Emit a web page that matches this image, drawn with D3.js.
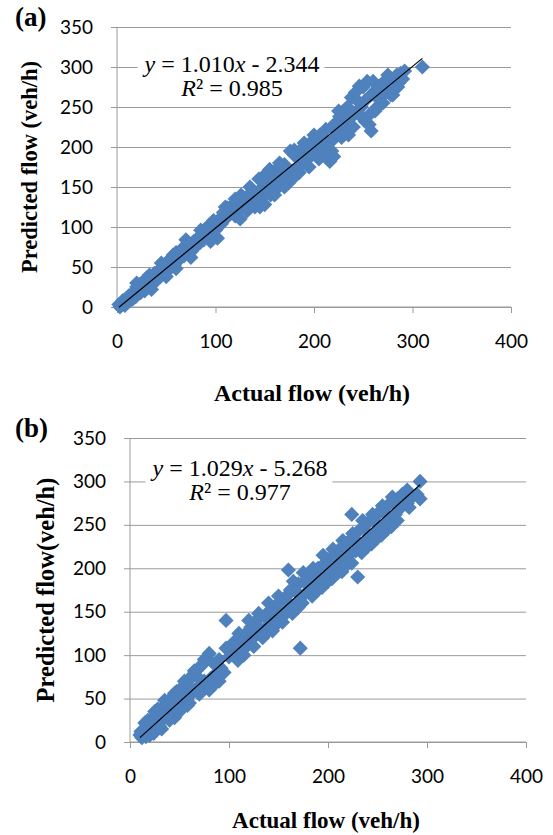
<!DOCTYPE html>
<html><head><meta charset="utf-8">
<script src="https://cdn.jsdelivr.net/npm/d3@7"></script>
<style>body{margin:0;background:#fff}svg{display:block}</style>
</head><body>
<svg id="c" width="553" height="835"></svg>
<script>
// ---------- DATA ----------
const xTicks = [0, 100, 200, 300, 400];
const yTicks = [0, 50, 100, 150, 200, 250, 300, 350];

const actualA = [2,3,5,6,8,9,10,12,13,15,16,18,19,20,21,23,24,25,27,28,30,31,33,34,36,38,40,42,44,
46,48,50,52,54,55,57,58,60,62,64,65,67,68,70,72,74,76,78,80,82,84,86,88,90,92,94,96,98,100,102,104,
106,108,110,112,114,116,118,120,122,124,126,128,130,132,134,136,138,140,142,144,146,148,150,150,
152,154,156,158,160,162,164,166,168,170,172,174,176,178,180,182,184,186,188,190,192,194,196,198,200,
202,204,206,208,210,212,214,216,218,220,222,224,226,228,230,232,234,236,238,240,242,244,246,248,250,
252,254,256,258,258,260,262,264,266,268,270,272,274,276,278,280,282,284,286,288,290,292,310,
20,35,45,50,60,70,75,85,95,110,120,125,135,145,155,160,165,170,180,185,190,195,200,205,212,218,220,
225,235,240,248,252,256,262,270,275,280,285,
148,158,168,178,188,198,208,228,238,244,264,268];
const predA = [3,0,4,8,2,10,6,14,8,16,10,20,13,25,16,28,18,22,32,20,36,26,40,30,35,42,33,45,38,
50,42,55,46,60,50,65,52,68,58,70,62,74,64,72,68,78,70,82,76,86,80,90,84,98,88,102,95,108,96,86,110,
104,118,110,124,116,120,128,114,130,122,140,126,136,120,140,130,145,125,138,160,135,150,128,165,
145,158,140,165,152,172,150,168,158,178,165,155,195,170,190,172,185,178,198,180,192,186,205,190,200,
210,195,215,200,212,222,205,182,225,210,230,215,238,222,245,228,250,235,262,240,268,245,276,250,275,
258,282,240,220,265,282,270,250,276,262,280,268,285,272,265,282,275,290,280,292,285,295,300,
30,22,55,38,48,84,62,96,82,125,135,110,150,125,172,140,180,150,196,168,205,175,215,185,190,195,188,
245,215,225,238,232,228,245,255,290,265,275,
160,145,175,160,185,205,190,212,226,258,262,272];

const actualB = [10,11,12,14,15,16,18,19,20,22,23,24,25,27,28,30,31,32,34,35,37,38,40,41,43,44,45,47,48,
50,52,54,55,57,58,60,62,64,65,67,68,70,72,74,75,78,80,80,82,85,88,90,92,
97,97,100,104,106,109,112,114,116,118,120,122,124,126,128,130,132,134,136,138,140,142,144,146,148,150,
152,154,156,158,160,160,162,164,166,168,170,172,172,174,176,178,180,182,184,186,188,190,192,194,196,198,
200,202,204,206,208,210,212,214,216,218,220,222,224,224,226,228,230,230,232,234,236,238,240,242,244,246,
248,250,252,254,256,258,260,262,264,266,268,270,272,275,278,280,282,285,290,293,293,
15,20,25,30,35,40,45,50,55,60,65,70,75,85,90,95,105,110,115,120,125,130,135,140,145,150,155,165,170,
175,185,190,195,200,205,210,215,220,225,235,240,245,250,255,260,265,270,280,
18,28,38,48,58,68,142,162,182,212,232,252];
const predB = [8,12,5,10,15,6,18,12,22,14,28,10,20,32,18,36,24,15,40,28,44,32,48,36,52,40,28,58,44,
60,48,64,52,68,42,72,56,78,60,82,62,86,66,90,70,96,102,60,74,66,80,70,85,
140,108,98,104,100,94,112,118,108,126,115,132,120,138,124,142,130,120,145,132,150,138,128,155,142,160,
148,138,165,152,198,170,158,148,175,160,182,108,168,160,185,172,190,176,168,195,182,200,186,178,205,192,
210,198,188,215,202,220,206,196,225,212,230,216,262,206,235,220,190,242,228,218,248,232,252,238,228,258,
242,262,248,238,268,252,272,258,248,276,262,280,268,285,275,290,270,282,285,300,280,
22,8,35,18,48,25,56,35,70,45,82,55,95,90,95,80,115,125,100,140,110,148,122,160,132,168,145,185,155,
195,200,175,215,185,222,195,232,205,240,255,225,262,235,272,245,282,255,275,
25,38,30,52,50,75,148,175,178,222,225,265];

const panels = [
  {label:"(a)", actual:actualA, pred:predA, slope:1.010, icpt:-2.344, eq1:["1.010","2.344"], r2:"0.985",
   yTitle:"Predicted flow (veh/h)", x0:117, x1:511, y0:307, y1:27,
   yTitleX:29, yTitleSize:22.5, eqX:232, eqY:64, labY:26, xTitleY:393, xTitleSize:24},
  {label:"(b)", actual:actualB, pred:predB, slope:1.029, icpt:-5.268, eq1:["1.029","5.268"], r2:"0.977",
   yTitle:"Predicted flow(veh/h)", x0:130, x1:526, y0:742, y1:438,
   yTitleX:45, yTitleSize:24.5, eqX:240, eqY:468, labY:437, xTitleY:820, xTitleSize:23}
];

// ---------- DRAW ----------
const svg = d3.select("#c");
const blue = "#4F81BD", grid = "#9a9a9a";
const sans = "Lato, 'Open Sans', sans-serif";
const serif = "'Liberation Serif', 'Times New Roman', serif";

panels.forEach(p => {
  const x = d3.scaleLinear().domain([0, 400]).range([p.x0, p.x1]);
  const y = d3.scaleLinear().domain([0, 350]).range([p.y0, p.y1]);
  const g = svg.append("g");

  // horizontal gridlines + outer ticks
  g.append("g").attr("transform", `translate(${p.x0},0)`)
    .call(d3.axisLeft(y).tickValues(yTicks).tickSize(-(p.x1 - p.x0)).tickPadding(24).tickFormat(d3.format("d")))
    .call(a => a.select(".domain").remove())
    .call(a => a.selectAll(".tick line").attr("stroke", grid).attr("x1", -6))
    .call(a => a.selectAll(".tick text").attr("font-family", sans).attr("font-size", 19).attr("fill", "#000"));
  // y axis line
  g.append("line").attr("x1", p.x0).attr("x2", p.x0).attr("y1", y(0)).attr("y2", y(350)).attr("stroke", grid);

  // x axis
  g.append("g").attr("transform", `translate(0,${p.y0})`)
    .call(d3.axisBottom(x).tickValues(xTicks).tickSize(6).tickPadding(22).tickFormat(d3.format("d")))
    .call(a => a.select(".domain").attr("stroke", grid).attr("d", `M${p.x0},0H${p.x1}`))
    .call(a => a.selectAll(".tick line").attr("stroke", grid))
    .call(a => a.selectAll(".tick text").attr("font-family", sans).attr("font-size", 19).attr("fill", "#000"));

  // points (diamonds)
  g.append("g").selectAll("path").data(p.actual.map((a, i) => [a, p.pred[i]])).join("path")
    .attr("transform", d => `translate(${x(d[0])},${y(d[1])}) rotate(45)`)
    .attr("d", d3.symbol().type(d3.symbolSquare).size(115))
    .attr("fill", blue);

  // trendline
  const xmin = d3.min(p.actual), xmax = d3.max(p.actual);
  g.append("line")
    .attr("x1", x(xmin)).attr("y1", y(p.slope * xmin + p.icpt))
    .attr("x2", x(xmax)).attr("y2", y(p.slope * xmax + p.icpt))
    .attr("stroke", "#000").attr("stroke-width", 1.2);

  // equation label
  const eg = g.append("g");
  const t1 = eg.append("text").attr("x", p.eqX).attr("y", p.eqY).attr("text-anchor", "middle")
    .attr("dominant-baseline", "central").attr("font-family", serif).attr("font-size", 24);
  t1.append("tspan").attr("font-style", "italic").text("y");
  t1.append("tspan").text(" = " + p.eq1[0]);
  t1.append("tspan").attr("font-style", "italic").text("x");
  t1.append("tspan").text(" - " + p.eq1[1]);
  const t2 = eg.append("text").attr("x", p.eqX).attr("y", p.eqY + 24).attr("text-anchor", "middle")
    .attr("dominant-baseline", "central").attr("font-family", serif).attr("font-size", 24);
  t2.append("tspan").attr("font-style", "italic").text("R");
  t2.append("tspan").text("² = " + p.r2);
  const bb = eg.node().getBBox();
  eg.insert("rect", "text").attr("x", bb.x - 5).attr("y", bb.y).attr("width", bb.width + 10)
    .attr("height", bb.height).attr("fill", "#fff");

  // titles
  svg.append("text").attr("x", 15).attr("y", p.labY).attr("font-family", serif).attr("font-weight", "bold")
    .attr("font-size", 27).text(p.label);
  svg.append("text").attr("x", (p.x0 + p.x1) / 2 - 2).attr("y", p.xTitleY).attr("text-anchor", "middle")
    .attr("dominant-baseline", "central")
    .attr("font-family", serif).attr("font-weight", "bold").attr("font-size", p.xTitleSize).text("Actual flow (veh/h)");
  svg.append("text").attr("transform", `translate(${p.yTitleX},${(p.y0 + p.y1) / 2}) rotate(-90)`)
    .attr("text-anchor", "middle").attr("dominant-baseline", "central")
    .attr("font-family", serif).attr("font-weight", "bold").attr("font-size", p.yTitleSize).text(p.yTitle);
});
</script>
</body></html>
